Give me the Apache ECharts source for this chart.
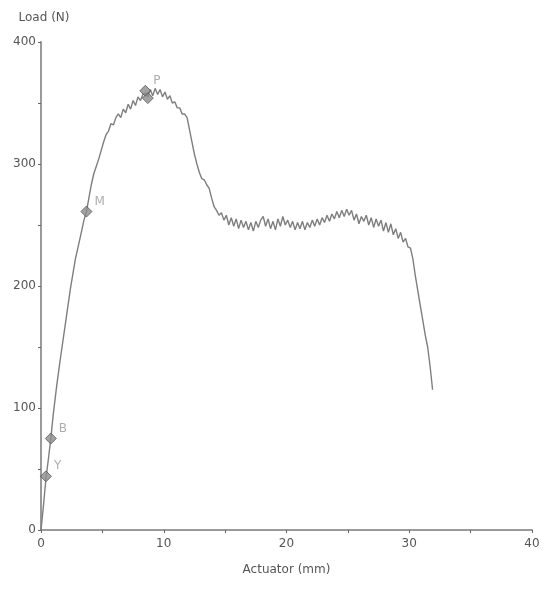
<!DOCTYPE html>
<html><head><meta charset="utf-8">
<script src="https://cdn.jsdelivr.net/npm/echarts@6/dist/echarts.min.js"></script>
<style>html,body{margin:0;padding:0;background:#fff}#c{width:544px;height:590px}</style>
</head><body><div id="c"></div>
<script>
// Load-displacement curve (Actuator mm, Load N)
const curve = [[0,0],[0.2,20],[0.4,42],[0.6,58],[0.8,75],[1.0,95],[1.3,120],[1.6,142],[2.0,170],[2.4,198],[2.8,222],[3.2,240],[3.5,254],[3.7,261],
[3.9,272],[4.1,283],[4.3,292],[4.5,298],[4.7,304],[4.9,311],[5.1,318],[5.3,324],[5.5,327],[5.7,333],[5.9,332],[6.1,338],[6.3,341],[6.5,338],[6.7,345],[6.9,342],[7.1,349],[7.3,345],[7.5,352],[7.7,348],[7.9,355],[8.1,352],[8.3,357],[8.5,358],[8.7,355],[8.9,361],[9.1,356],[9.3,362],[9.5,357],[9.7,361],[9.9,355],[10.1,359],[10.3,353],[10.5,356],[10.7,350],[10.9,351],[11.1,346],[11.3,346],[11.5,341],[11.7,341],[11.9,338],
[12.1,328],[12.3,318],[12.5,308],[12.7,300],[12.9,293],[13.1,288],[13.3,287],[13.5,283],[13.7,280],[13.9,272],[14.1,265],[14.3,262],[14.5,258],[14.7,260],[14.9,254],
[15.1,258],[15.3,250],[15.5,256],[15.7,249],[15.9,255],[16.1,247],[16.3,254],[16.5,248],[16.7,253],[16.9,246],[17.1,252],[17.3,245],[17.5,253],[17.7,248],[17.9,254],[18.1,257],[18.3,249],[18.5,255],[18.7,247],[18.9,253],[19.1,246],[19.3,255],[19.5,249],[19.7,257],[19.9,250],
[20.1,254],[20.3,248],[20.5,253],[20.7,246],[20.9,252],[21.1,247],[21.3,253],[21.5,246],[21.7,252],[21.9,248],[22.1,254],[22.3,249],[22.5,255],[22.7,250],[22.9,256],[23.1,252],[23.3,258],[23.5,253],[23.7,259],[23.9,255],[24.1,261],[24.3,256],[24.5,262],[24.7,257],[24.9,263],
[25.1,258],[25.3,262],[25.5,254],[25.7,259],[25.9,251],[26.1,257],[26.3,253],[26.5,258],[26.7,250],[26.9,256],[27.1,248],[27.3,255],[27.5,249],[27.7,254],[27.9,245],[28.1,252],[28.3,244],[28.5,251],[28.7,242],[28.9,247],[29.1,239],[29.3,244],[29.5,236],[29.7,239],[29.9,232],[30.1,231],
[30.3,222],[30.5,208],[30.7,196],[30.9,184],[31.1,172],[31.3,160],[31.5,150],[31.7,134],[31.9,115]];
const markerNames = ['Y','B','M','P',''];
const markerX = [0.4, 0.8, 3.7, 8.5, 8.7];
const markerY = [44, 75, 261, 360, 354];
const xTicks = [0,10,20,30,40];
const yTicks = [0,100,200,300,400];

const chart = echarts.init(document.getElementById('c'));
const axisColor = '#9a9a9a';
const txt = '#555';
chart.setOption({
  animation:false,
  grid:{left:41,right:12,top:42,bottom:60,containLabel:false},
  xAxis:{type:'value',min:xTicks[0],max:xTicks[xTicks.length-1],interval:10,
    name:'Actuator (mm)',nameLocation:'middle',nameGap:34,
    nameTextStyle:{color:txt,fontSize:12,fontFamily:'DejaVu Sans'},
    axisLine:{lineStyle:{color:axisColor,width:2}},
    axisTick:{show:true,length:3,inside:false,lineStyle:{color:'#666'}},
    minorTick:{show:true,splitNumber:2,length:3,lineStyle:{color:'#666'}},
    axisLabel:{color:txt,fontSize:12,fontFamily:'DejaVu Sans',margin:8},
    splitLine:{show:false}},
  yAxis:{type:'value',min:yTicks[0],max:yTicks[yTicks.length-1],interval:100,
    name:'Load (N)',nameLocation:'end',nameGap:18,
    nameTextStyle:{color:txt,fontSize:12,fontFamily:'DejaVu Sans',align:'center',padding:[0,0,0,6]},
    axisLine:{show:true,lineStyle:{color:axisColor,width:2}},
    axisTick:{show:true,length:3,lineStyle:{color:'#666'}},
    minorTick:{show:true,splitNumber:2,length:3,lineStyle:{color:'#666'}},
    axisLabel:{color:txt,fontSize:12,fontFamily:'DejaVu Sans',margin:5},
    splitLine:{show:false}},
  series:[
    {type:'line',data:curve,showSymbol:false,symbol:'none',lineStyle:{color:'#7e7e7e',width:1.4},z:2},
    {type:'scatter',data:markerX.map((x,i)=>({value:[x,markerY[i]],name:markerNames[i]})),
     symbol:'diamond',symbolSize:11,itemStyle:{color:'#8c8c8c',borderColor:'#555',borderWidth:1},
     label:{show:true,position:'right',offset:[0,-10],distance:2,formatter:p=>p.name,color:'#999',fontSize:12,fontFamily:'DejaVu Sans'},z:3}
  ]
});
</script></body></html>
